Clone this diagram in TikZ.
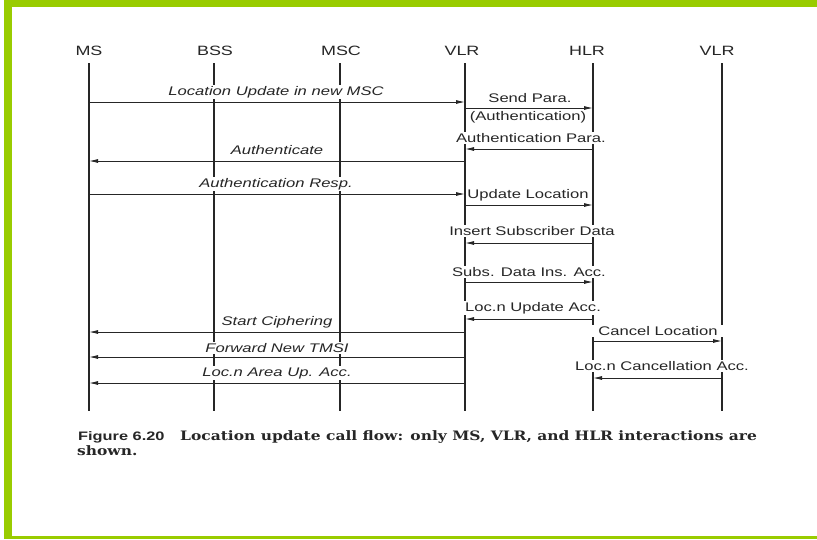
\documentclass[tikz,border=0pt]{standalone}
\usepackage{fontspec}
\setmainfont{Liberation Sans}
\newfontfamily\lab[FakeStretch=1.33]{Liberation Sans}
\newfontfamily\capfont[FakeStretch=1.19]{DejaVu Serif}
\usetikzlibrary{arrows.meta}
\definecolor{lime}{HTML}{99CC00}
\definecolor{ink}{HTML}{262626}
\begin{document}
\begin{tikzpicture}[x=1pt,y=-1pt,
  life/.style={draw=ink, line width=1.2pt},
  msg/.style={draw=ink, line width=0.9pt, -{Latex[length=9pt,width=4pt]}},
  lbl/.style={fill=white, inner sep=1pt, text=ink, font=\lab\fontsize{12.5}{14}\selectfont},
  ilbl/.style={fill=white, inner sep=1pt, text=ink, font=\lab\itshape\fontsize{12.5}{14}\selectfont},
  head/.style={text=ink, inner sep=1pt, font=\lab\fontsize{13.5}{15}\selectfont},
]
% background and frame
\fill[white] (0,0) rectangle (817,539);
\fill[lime] (4,0) rectangle (817,6.5);
\fill[lime] (4,0) rectangle (12,539);
\fill[lime] (4,535.5) rectangle (817,539);
\useasboundingbox (0,0) rectangle (817,539);

% headers
\node[head] (hMS)   at (89,51)  {MS};
\node[head] (hBSS)  at (215,51) {BSS};
\node[head] (hMSC)  at (341,51) {MSC};
\node[head] (hVLR)  at (462,51) {VLR};
\node[head] (hHLR)  at (587,51) {HLR};
\node[head] (hVLR2) at (717,51) {VLR};

% lifeline tops and bottoms
\coordinate (MS)   at (89,63);   \coordinate (MSb)   at (89,411);
\coordinate (BSS)  at (214,63);  \coordinate (BSSb)  at (214,411);
\coordinate (MSC)  at (340,63);  \coordinate (MSCb)  at (340,411);
\coordinate (VLR)  at (465,63);  \coordinate (VLRb)  at (465,411);
\coordinate (HLR)  at (593,63);  \coordinate (HLRb)  at (593,411);
\coordinate (VLR2) at (722,63);  \coordinate (VLR2b) at (722,411);
\foreach \n in {MS,BSS,MSC,VLR,HLR,VLR2} \draw[life] (\n) -- (\n b);

% labels (white boxes interrupt lifelines)
\node[ilbl] (l1)  at (276,92)  {Location Update in new MSC};
\node[lbl]  (l2)  at (530,98)  {Send Para.};
\node[lbl]  (l2b) at (528,117) {(Authentication)};
\node[lbl]  (l3)  at (531,138) {Authentication Para.};
\node[ilbl] (l4)  at (277,150) {Authenticate};
\node[ilbl] (l5)  at (276,184) {Authentication Resp.};
\node[lbl]  (l6)  at (528,195) {Update Location};
\node[lbl]  (l7)  at (532,231) {Insert Subscriber Data};
\node[lbl]  (l8)  at (529,272) {Subs. Data Ins. Acc.};
\node[lbl]  (l9)  at (533,308) {Loc.n Update Acc.};
\node[ilbl] (l10) at (277,322) {Start Ciphering};
\node[lbl, inner xsep=6pt] (l11) at (658,331) {Cancel Location};
\node[ilbl] (l12) at (277,348) {Forward New TMSI};
\node[lbl]  (l13) at (662,366) {Loc.n Cancellation Acc.};
\node[ilbl] (l14) at (277,373) {Loc.n Area Up. Acc.};

% messages
\draw[msg] (MS   |- 0,102) -- (VLR  |- 0,102);
\draw[msg] (VLR  |- 0,108) -- (HLR  |- 0,108);
\draw[msg] (HLR  |- 0,149) -- (VLR  |- 0,149);
\draw[msg] (VLR  |- 0,161) -- (MS   |- 0,161);
\draw[msg] (MS   |- 0,194) -- (VLR  |- 0,194);
\draw[msg] (VLR  |- 0,205) -- (HLR  |- 0,205);
\draw[msg] (HLR  |- 0,243) -- (VLR  |- 0,243);
\draw[msg] (VLR  |- 0,282) -- (HLR  |- 0,282);
\draw[msg] (HLR  |- 0,319) -- (VLR  |- 0,319);
\draw[msg] (VLR  |- 0,332) -- (MS   |- 0,332);
\draw[msg] (HLR  |- 0,341) -- (VLR2 |- 0,341);
\draw[msg] (VLR  |- 0,357) -- (MS   |- 0,357);
\draw[msg] (VLR2 |- 0,378) -- (HLR  |- 0,378);
\draw[msg] (VLR  |- 0,383) -- (MS   |- 0,383);

% caption
\node[anchor=base west, inner sep=0pt, text=ink, font=\lab\bfseries\fontsize{12.3}{13}\selectfont] (fig) at (78,440) {Figure 6.20};
\node[anchor=base west, inner sep=0pt, text=ink, font=\capfont\bfseries\fontsize{13}{14}\selectfont] (cap) at (180,440) {Location update call flow: only MS, VLR, and HLR interactions are};
\node[anchor=base west, inner sep=0pt, text=ink, font=\capfont\bfseries\fontsize{13}{14}\selectfont] (cap2) at (77,455) {shown.};
\end{tikzpicture}
\end{document}
